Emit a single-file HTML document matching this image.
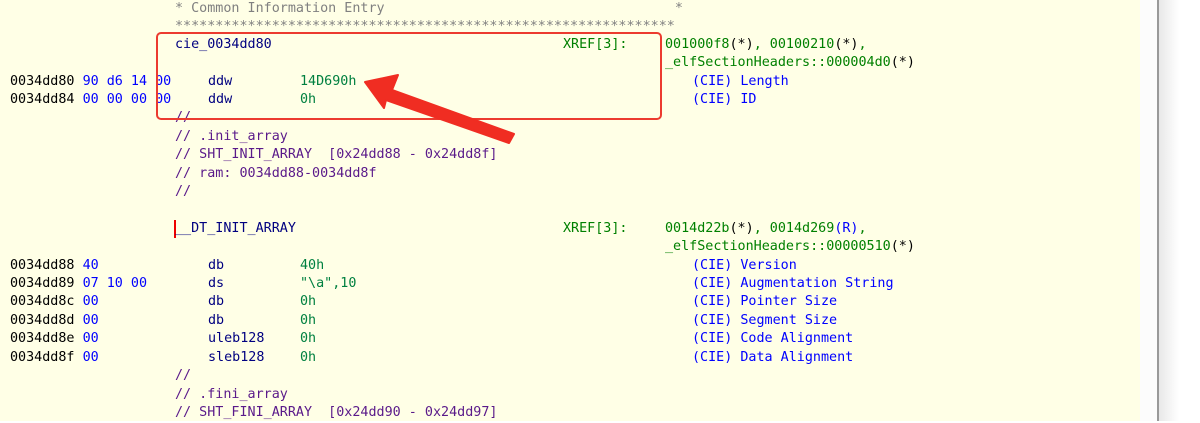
<!DOCTYPE html>
<html><head><meta charset="utf-8"><style>
html,body{margin:0;padding:0}
body{width:1200px;height:421px;position:relative;overflow:hidden;background:#fff;font-family:"DejaVu Sans Mono","Liberation Mono",monospace;font-size:13.4px}
#bg{position:absolute;left:0;top:0;width:1140px;height:421px;background:#ffffe6}
#strip{position:absolute;left:1140px;top:0;width:17px;height:421px;background:#fcfcfc}
#line{position:absolute;left:1157px;top:0;width:2px;height:421px;background:#999}
#rt{position:absolute;left:1159px;top:0;width:41px;height:421px;background:linear-gradient(90deg,#e8e8e8,#fff 20px)}
#w{position:absolute;left:0;top:2px;width:1140px;height:421px}
.t{position:absolute;white-space:pre;line-height:18px;height:18px}
.a{color:#000}.b{color:#0000ff}.m{color:#000080}.o{color:#008040}.c{color:#5a1a8a}.g{color:#808080}.x{color:#008000}.k{color:#000}
</style></head><body>
<div id="bg"></div><div id="strip"></div><div id="line"></div><div id="rt"></div>
<div id="w">
<div class="t g" style="left:175px;top:-2px">* Common Information Entry                                    *</div>
<div class="t g" style="left:175px;top:16px">**************************************************************</div>

<div class="t m" style="left:175px;top:34px">cie_0034dd80</div>
<div class="t x" style="left:563px;top:34px">XREF[3]:</div>
<div class="t x" style="left:665px;top:34px">001000f8<span class="k">(*)</span>, 00100210<span class="k">(*)</span>,</div>
<div class="t x" style="left:665px;top:52px">_elfSectionHeaders::000004d0<span class="k">(*)</span></div>

<div class="t a" style="left:10px;top:71px">0034dd80 <span class="b">90 d6 14 00</span></div>
<div class="t m" style="left:208px;top:71px">ddw</div><div class="t o" style="left:300px;top:71px">14D690h</div>
<div class="t b" style="left:692px;top:71px">(CIE) Length</div>
<div class="t a" style="left:10px;top:89px">0034dd84 <span class="b">00 00 00 00</span></div>
<div class="t m" style="left:208px;top:89px">ddw</div><div class="t o" style="left:300px;top:89px">0h</div>
<div class="t b" style="left:692px;top:89px">(CIE) ID</div>

<div class="t c" style="left:175px;top:107px">//</div>
<div class="t c" style="left:175px;top:126px">// .init_array</div>
<div class="t c" style="left:175px;top:144px">// SHT_INIT_ARRAY  [0x24dd88 - 0x24dd8f]</div>
<div class="t c" style="left:175px;top:163px">// ram: 0034dd88-0034dd8f</div>
<div class="t c" style="left:175px;top:181px">//</div>

<div style="position:absolute;left:174px;top:218px;width:2px;height:18px;background:#e00"></div>
<div class="t m" style="left:175px;top:218px">__DT_INIT_ARRAY</div>
<div class="t x" style="left:563px;top:218px">XREF[3]:</div>
<div class="t x" style="left:665px;top:218px">0014d22b<span class="k">(*)</span>, 0014d269<span class="b">(R)</span>,</div>
<div class="t x" style="left:665px;top:236px">_elfSectionHeaders::00000510<span class="k">(*)</span></div>

<div class="t a" style="left:10px;top:255px">0034dd88 <span class="b">40</span></div>
<div class="t m" style="left:208px;top:255px">db</div><div class="t o" style="left:300px;top:255px">40h</div>
<div class="t b" style="left:692px;top:255px">(CIE) Version</div>
<div class="t a" style="left:10px;top:273px">0034dd89 <span class="b">07 10 00</span></div>
<div class="t m" style="left:208px;top:273px">ds</div><div class="t o" style="left:300px;top:273px">"\a",10</div>
<div class="t b" style="left:692px;top:273px">(CIE) Augmentation String</div>
<div class="t a" style="left:10px;top:291px">0034dd8c <span class="b">00</span></div>
<div class="t m" style="left:208px;top:291px">db</div><div class="t o" style="left:300px;top:291px">0h</div>
<div class="t b" style="left:692px;top:291px">(CIE) Pointer Size</div>
<div class="t a" style="left:10px;top:310px">0034dd8d <span class="b">00</span></div>
<div class="t m" style="left:208px;top:310px">db</div><div class="t o" style="left:300px;top:310px">0h</div>
<div class="t b" style="left:692px;top:310px">(CIE) Segment Size</div>
<div class="t a" style="left:10px;top:328px">0034dd8e <span class="b">00</span></div>
<div class="t m" style="left:208px;top:328px">uleb128</div><div class="t o" style="left:300px;top:328px">0h</div>
<div class="t b" style="left:692px;top:328px">(CIE) Code Alignment</div>
<div class="t a" style="left:10px;top:347px">0034dd8f <span class="b">00</span></div>
<div class="t m" style="left:208px;top:347px">sleb128</div><div class="t o" style="left:300px;top:347px">0h</div>
<div class="t b" style="left:692px;top:347px">(CIE) Data Alignment</div>

<div class="t c" style="left:175px;top:365px">//</div>
<div class="t c" style="left:175px;top:384px">// .fini_array</div>
<div class="t c" style="left:175px;top:402px">// SHT_FINI_ARRAY  [0x24dd90 - 0x24dd97]</div>
</div>
<div style="position:absolute;left:156px;top:32px;width:502px;height:84px;border:2.5px solid #ec3b2f;border-radius:5px"></div>
<svg style="position:absolute;left:0;top:0" width="1200" height="421">
<polygon points="365,82 398,75 392,90 514,134 509,143 386,100 384,108" fill="#f02d22" stroke="#f02d22" stroke-width="2" stroke-linejoin="round"/>
</svg>
</body></html>
